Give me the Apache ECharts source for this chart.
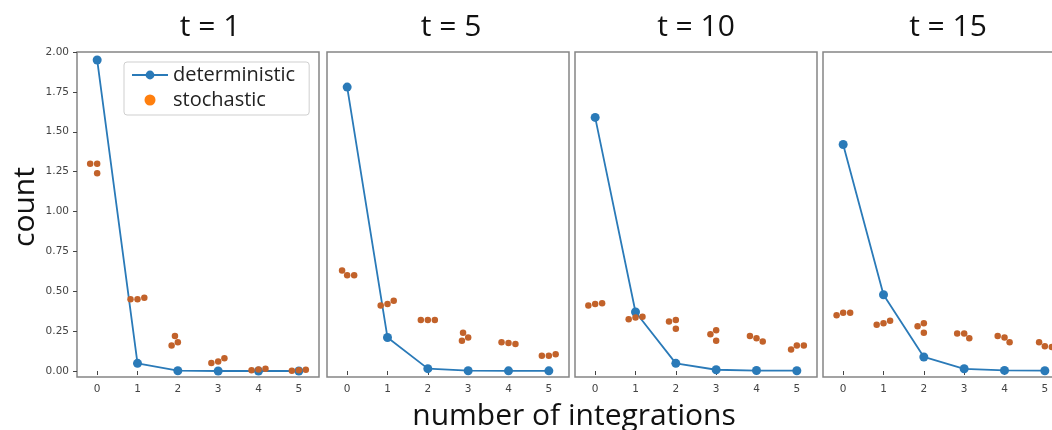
<!DOCTYPE html>
<html style="height: 100%">
<head>
  <meta charset="utf-8">
</head>
<body style="height: 100%; margin: 0; background: #fff">
  <div id="container" style="width: 1052px; height: 430px"></div>

  <script type="text/javascript" src="https://fastly.jsdelivr.net/npm/echarts@6.0.0/dist/echarts.min.js"></script>

  <script type="text/javascript">
// categories and panel names
var categories = ['0', '1', '2', '3', '4', '5'];
var panelTitles = ['t = 1', 't = 5', 't = 10', 't = 15'];
var yTicks = [0, 0.25, 0.5, 0.75, 1, 1.25, 1.5, 1.75, 2];

// deterministic curve, one value per number of integrations
var detT1 = [1.95, 0.048, 0.002, 0.0, 0.0, 0.0];
var detT5 = [1.78, 0.21, 0.015, 0.002, 0.001, 0.001];
var detT10 = [1.59, 0.37, 0.048, 0.008, 0.003, 0.002];
var detT15 = [1.42, 0.478, 0.088, 0.014, 0.004, 0.002];

// stochastic runs, three per number of integrations
var stochT1 = [[1.30, 1.30, 1.24], [0.45, 0.45, 0.46], [0.18, 0.22, 0.16],
               [0.06, 0.05, 0.08], [0.01, 0.005, 0.015], [0.005, 0.002, 0.008]];
var stochT5 = [[0.60, 0.63, 0.60], [0.42, 0.41, 0.44], [0.32, 0.32, 0.32],
               [0.21, 0.24, 0.19], [0.175, 0.17, 0.18], [0.095, 0.095, 0.105]];
var stochT10 = [[0.42, 0.41, 0.425], [0.335, 0.325, 0.34], [0.32, 0.31, 0.265],
                [0.255, 0.23, 0.19], [0.205, 0.22, 0.185], [0.16, 0.135, 0.16]];
var stochT15 = [[0.365, 0.35, 0.365], [0.30, 0.29, 0.315], [0.30, 0.28, 0.24],
                [0.235, 0.235, 0.205], [0.21, 0.22, 0.18], [0.155, 0.18, 0.15]];

var detAll = [detT1, detT5, detT10, detT15];
var stochAll = [stochT1, stochT5, stochT10, stochT15];

var dom = document.getElementById('container');
var myChart = echarts.init(dom, null, { renderer: 'canvas' });

var lefts = [77, 327, 575, 823];
var titleX = [210, 451, 696, 948];
var blue = '#2a7ab8';
var orange = '#c2622a';

var grids = [], xAxes = [], yAxes = [], series = [], graphics = [];

for (var i = 0; i < 4; i++) {
  // last panel runs past the right edge of the picture, so no bounds clamping
  grids.push({
    left: lefts[i], top: 52, width: 242, height: 325,
    outerBoundsMode: 'none',
    show: true, borderColor: '#858585', borderWidth: 1.5
  });
  xAxes.push({
    type: 'category',
    gridIndex: i,
    data: categories,
    boundaryGap: true,
    jitter: 22,
    jitterOverlap: false,
    jitterMargin: 0.5,
    axisLine: { show: false },
    axisTick: { show: true, alignWithLabel: true, length: 4, lineStyle: { color: '#444' } },
    axisLabel: { fontSize: 10.5, color: '#444', margin: 7, fontFamily: 'DejaVu Sans' },
    splitLine: { show: false }
  });
  yAxes.push({
    type: 'value',
    gridIndex: i,
    min: -0.0375,
    max: 2.0,
    axisLine: { show: false },
    splitLine: { show: false },
    axisTick: { show: i === 0, length: 4, customValues: yTicks, lineStyle: { color: '#444' } },
    axisLabel: {
      show: i === 0, customValues: yTicks, fontSize: 10.5, color: '#444', margin: 8,
      fontFamily: 'DejaVu Sans',
      formatter: function (v) { return v.toFixed(2); }
    }
  });
  series.push({
    name: 'deterministic',
    type: 'line',
    xAxisIndex: i, yAxisIndex: i,
    data: detAll[i],
    symbol: 'circle',
    symbolSize: 9,
    color: blue,
    lineStyle: { width: 1.8, color: blue },
    z: 2
  });
  var pts = [];
  stochAll[i].forEach(function (runs, c) {
    runs.forEach(function (v) { pts.push([c, v]); });
  });
  series.push({
    name: 'stochastic',
    type: 'scatter',
    xAxisIndex: i, yAxisIndex: i,
    data: pts,
    symbolSize: 6.5,
    itemStyle: { color: orange, opacity: 1 },
    z: 3
  });
  graphics.push({
    type: 'text', x: titleX[i], y: 27,
    style: {
      text: panelTitles[i], fontSize: 30, fontFamily: 'Open Sans', fill: '#111',
      textAlign: 'center', textVerticalAlign: 'middle'
    }
  });
}

graphics.push({
  type: 'text', x: 25, y: 207, rotation: Math.PI / 2,
  style: {
    text: 'count', fontSize: 30, fontFamily: 'Open Sans', fill: '#111',
    textAlign: 'center', textVerticalAlign: 'middle'
  }
});
graphics.push({
  type: 'text', x: 574, y: 416,
  style: {
    text: 'number of integrations', fontSize: 30, fontFamily: 'Open Sans', fill: '#111',
    textAlign: 'center', textVerticalAlign: 'middle'
  }
});

var option = {
  animation: false,
  backgroundColor: '#fff',
  grid: grids,
  xAxis: xAxes,
  yAxis: yAxes,
  legend: {
    orient: 'vertical',
    left: 124, top: 62,
    padding: [3, 14, 5, 7],
    itemWidth: 36, itemHeight: 11, itemGap: 5,
    borderColor: '#cfcfcf', borderWidth: 1, borderRadius: 3,
    textStyle: { fontSize: 20, fontFamily: 'Open Sans', color: '#222' },
    data: [
      { name: 'deterministic' },
      { name: 'stochastic', itemStyle: { color: '#ff7f0e' } }
    ]
  },
  series: series,
  graphic: graphics
};

myChart.setOption(option);
window.addEventListener('resize', myChart.resize);
  </script>
</body>
</html>
